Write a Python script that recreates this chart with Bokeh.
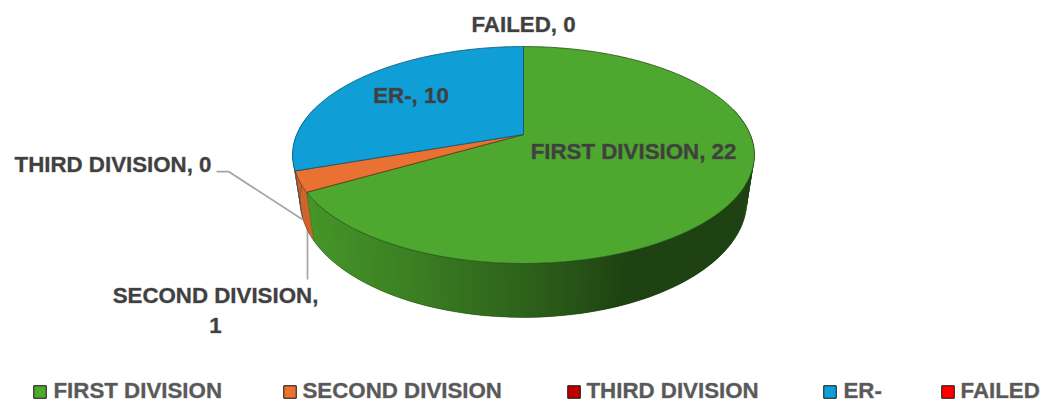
import numpy as np
from bokeh.plotting import figure
from bokeh.models import ColumnDataSource, Range1d
from bokeh.core.properties import value
from bokeh.embed import file_html
from bokeh.resources import INLINE

categories = ["FIRST DIVISION", "SECOND DIVISION", "THIRD DIVISION", "ER-", "FAILED"]
values = [22, 1, 0, 10, 0]
colors = ["#4EA72E", "#E97132", "#C00000", "#0F9ED5", "#FF0000"]
edge_colors = ["#1f4a12", "#6a3315", "#500000", "#07506d", "#700000"]

FONT = value("Liberation Sans")
SIZE = "22.3px"
LABEL = "#404040"
LEGEND = "#595959"
LABEL_OUTLINE = "#40404050"
LEGEND_OUTLINE = "#59595950"

p = figure(width=1042, height=405, output_backend="svg", toolbar_location=None,
           x_range=Range1d(0, 1042), y_range=Range1d(405, 0), min_border=0,
           outline_line_color=None, background_fill_color="white", border_fill_color="white")
p.axis.visible = False
p.grid.visible = False

# perspective projection of the pie's circle to the page
def top(theta):
    X, Y = np.sin(theta), np.cos(theta)
    w = 1 + 0.189 * Y
    return 523 + 226.8 * X / w, 134 - 104.6 * Y / w

def bottom(theta):
    X, Y = np.sin(theta), np.cos(theta)
    w = 1 + 0.189 * Y
    return 523 + 219.5 * X / w, 177.6 - 113.0 * Y / w

def shade(hex_color, x):
    f = np.interp(x, [290, 310, 420, 520, 590, 625, 760], [.86, .9, .76, .6, .48, .4, .4])
    rgb = [int(hex_color[i:i + 2], 16) for i in (1, 3, 5)]
    return "#%02x%02x%02x" % tuple(int(c * f) for c in rgb)

total = sum(values)
frac = np.cumsum([0] + values) / total * 2 * np.pi

# leader lines
p.line([216, 228, 302], [171, 171, 219], line_color="#A6A6A6", line_width=1.75)
p.line([307, 307], [228, 279], line_color="#A6A6A6", line_width=1.75)

# side wall: overlapping strips drawn right to left, so no seams show
for i in [3, 1, 0]:
    a, b = frac[i], frac[i + 1]
    lo, hi = max(a, np.radians(75)), min(b, np.radians(285))
    edges = np.linspace(lo, hi, max(2, int(np.degrees(hi - lo)) + 1))
    pairs = list(zip(edges[:-1], edges[1:]))
    for t0, t1 in reversed(pairs):
        t2 = min(t1 + np.radians(1), hi)
        x0, y0 = top(t0); x1, y1 = top(t2)
        x2, y2 = bottom(t2); x3, y3 = bottom(t0)
        xm = (top(t0)[0] + top(t1)[0] + bottom(t1)[0] + bottom(t0)[0]) / 4
        p.patch([x0, x1, x2, x3], [y0, y1, y2, y3], fill_color=shade(colors[i], xm), line_color=None)
    if np.radians(100) < b < np.radians(262):
        xt, yt = top(b); xb, yb = bottom(b)
        p.line([xt, xb], [yt, yb], line_color=edge_colors[i + 1], line_width=0.6, line_alpha=0.7)

# outline along the base of the wall
th = np.radians(np.linspace(88, 272, 200))
bx, by = bottom(th)
p.line(bx, by, line_color="#1f3f12", line_width=0.6, line_alpha=0.6)

# top face
for i, v in enumerate(values):
    if v == 0:
        continue
    th = np.linspace(frac[i], frac[i + 1], max(3, int(v * 12)))
    tx, ty = top(th)
    p.patch(np.r_[523, tx], np.r_[134, ty], fill_color=colors[i],
            line_color=edge_colors[i], line_width=0.75, line_join="round")

# data labels
def label(x, y, text, align="center", **kw):
    p.text([x], [y], text=[text], text_font=FONT, text_font_style="bold",
           text_font_size=SIZE, text_color=LABEL, text_outline_color=LABEL_OUTLINE,
           text_align=align, text_baseline="middle", **kw)

lab = [f"{c}, {v}" for c, v in zip(categories, values)]
label(633, 151, lab[0])
label(215, 310, "SECOND DIVISION,\n1", text_line_height=1.17)
label(211, 164, lab[2], align="right")
label(410.5, 95, lab[3])
label(523, 24, lab[4])

# legend
swatch_x = [39.5, 289.5, 573.5, 829.5, 947.5]
text_x = [53, 302, 586, 843, 960]
src = ColumnDataSource(dict(x=swatch_x, y=[391.5] * 5, c=colors, tx=text_x, ty=[390] * 5, t=categories))
p.scatter("x", "y", source=src, marker="square", size=12.5, fill_color="c", line_color="#111111", line_width=1)
p.text("tx", "ty", text="t", source=src, text_font=FONT, text_font_style="bold", text_font_size=SIZE,
       text_color=LEGEND, text_outline_color=LEGEND_OUTLINE, text_align="left", text_baseline="middle")

open("out.html", "w").write(file_html(p, INLINE))
